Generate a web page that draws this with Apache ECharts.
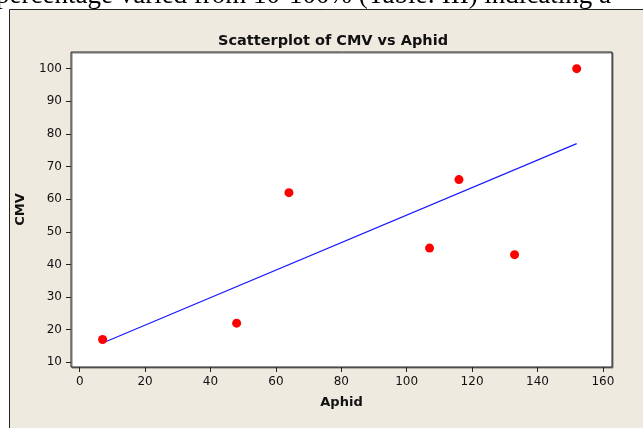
<!DOCTYPE html>
<html style="height: 100%">
<head>
<meta charset="utf-8">
<title>Scatterplot of CMV vs Aphid</title>
<script src="https://cdn.jsdelivr.net/npm/echarts@6/dist/echarts.min.js"></script>
</head>
<body style="margin: 0; background: #fff">
<div id="container" style="height: 428px; width: 643px;"></div>
<script type="text/javascript">

// data
var aphid = [7, 48, 64, 107, 116, 133, 152];
var cmv = [17, 22, 62, 45, 66, 43, 100];
var xTicks = [0, 20, 40, 60, 80, 100, 120, 140, 160];
var yTicks = [10, 20, 30, 40, 50, 60, 70, 80, 90, 100];
var caption = 'percentage varied from 10-100% (Table: III) indicating a';

var points = [];
for (var i = 0; i < aphid.length; i++) {
    points.push([aphid[i], cmv[i]]);
}

// least squares fit, drawn over the range of the data
var n = aphid.length, mx = 0, my = 0;
for (var i = 0; i < n; i++) { mx += aphid[i]; my += cmv[i]; }
mx /= n; my /= n;
var sxy = 0, sxx = 0;
for (var i = 0; i < n; i++) {
    sxy += (aphid[i] - mx) * (cmv[i] - my);
    sxx += (aphid[i] - mx) * (aphid[i] - mx);
}
var slope = sxy / sxx, icept = my - slope * mx;
var xLo = Math.min.apply(null, aphid), xHi = Math.max.apply(null, aphid);
var fit = [[xLo, icept + slope * xLo], [xHi, icept + slope * xHi]];

var myChart = echarts.init(document.getElementById('container'));
var labelFont = 'DejaVu Sans';

var option = {
    animation: false,
    backgroundColor: '#fff',
    graphic: [
        {
            type: 'rect', z: -10, silent: true,
            shape: {x: 9.5, y: 9.5, width: 700, height: 500},
            style: {fill: '#EEEAE0', stroke: '#222', lineWidth: 1}
        },
        {
            type: 'text', z: 10, silent: true,
            x: -4, y: -4,
            style: {
                text: caption, fill: '#000',
                font: '27px "Liberation Serif"',
                verticalAlign: 'middle', align: 'left'
            }
        }
    ],
    title: {
        text: 'Scatterplot of CMV vs Aphid',
        left: 328, top: 29, textAlign: 'center',
        textStyle: {fontFamily: labelFont, fontWeight: 'bold', fontSize: 14.5, color: '#111'}
    },
    grid: {
        left: 71, top: 52, width: 541, height: 315,
        show: true, backgroundColor: '#fff',
        borderColor: '#222', borderWidth: 1,
        shadowColor: '#777', shadowOffsetX: 1, shadowOffsetY: 1, shadowBlur: 0
    },
    xAxis: {
        type: 'value', min: -2.66, max: 162.8,
        name: 'Aphid', nameLocation: 'middle', nameGap: 29,
        nameTextStyle: {fontFamily: labelFont, fontWeight: 'bold', fontSize: 13, color: '#111'},
        axisLine: {show: false, onZero: false},
        axisTick: {show: true, inside: false, length: 5, customValues: xTicks, lineStyle: {color: '#222'}},
        axisLabel: {customValues: xTicks, margin: 9, fontFamily: labelFont, fontSize: 12, color: '#111'},
        splitLine: {show: false}
    },
    yAxis: {
        type: 'value', min: 8.56, max: 105.1,
        name: 'CMV', nameLocation: 'middle', nameGap: 44,
        nameTextStyle: {fontFamily: labelFont, fontWeight: 'bold', fontSize: 13, color: '#111'},
        axisLine: {show: false, onZero: false},
        axisTick: {show: true, inside: false, length: 5, customValues: yTicks, lineStyle: {color: '#222'}},
        axisLabel: {customValues: yTicks, margin: 9, fontFamily: labelFont, fontSize: 12, color: '#111'},
        splitLine: {show: false}
    },
    series: [
        {
            name: 'fit', type: 'line', data: fit,
            showSymbol: false, symbol: 'none',
            lineStyle: {color: '#1a1aff', width: 1.2},
            z: 2
        },
        {
            name: 'CMV', type: 'scatter', data: points,
            symbol: 'circle', symbolSize: 9,
            itemStyle: {color: '#ff0000', opacity: 1},
            z: 3
        }
    ]
};

myChart.setOption(option);
</script>
</body>
</html>
